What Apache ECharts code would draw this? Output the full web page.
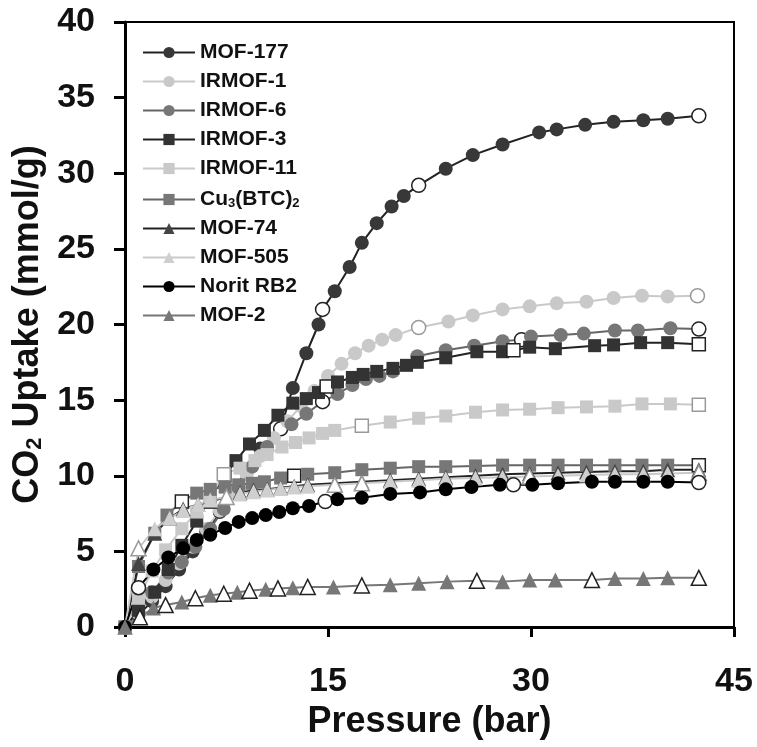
<!DOCTYPE html>
<html><head><meta charset="utf-8">
<script src="https://cdn.jsdelivr.net/npm/echarts@6/dist/echarts.min.js"></script>
<style>html,body{margin:0;padding:0;background:#fff}#c{width:757px;height:747px}</style>
</head><body><div id="c"></div>
<script>
// ---------- data ----------
const seriesNames = ['MOF-177','IRMOF-1','IRMOF-6','IRMOF-3','IRMOF-11','Cu3(BTC)2','MOF-74','MOF-505','Norit RB2','MOF-2'];
const xTicks = [0, 15, 30, 45];
const yTicks = [0, 5, 10, 15, 20, 25, 30, 35, 40];

const P_MOF177 = [0,1,2,3,4,5,6,7,8,9,10,11.5,12.4,13.4,14.3,14.6,15.5,16.6,17.5,18.6,19.7,20.6,21.7,23.7,25.7,27.9,30.6,31.9,34.0,36.1,38.3,40.1,42.4];
const U_MOF177 = [0,0.8,1.7,2.7,3.8,5.0,6.3,7.6,9.0,10.4,11.8,13.1,15.8,18.1,20.0,21.0,22.2,23.8,25.4,26.7,27.8,28.5,29.2,30.3,31.2,31.9,32.7,32.9,33.2,33.4,33.5,33.6,33.8];
const H_MOF177 = [11.5,14.6,21.7,42.4];

const P_IRMOF1 = [0,1,2,3,4,5,6,7,8,9,10,11,12,13,14,15,16,17,18,19,20,21.7,23.9,25.7,27.9,29.9,31.9,34.1,36.1,38.2,40.1,42.3];
const U_IRMOF1 = [0,0.9,2.0,3.1,4.2,5.3,6.5,7.7,8.9,10.1,11.3,12.5,13.6,14.6,15.6,16.6,17.4,18.1,18.6,19.0,19.3,19.8,20.2,20.6,21.0,21.2,21.4,21.5,21.75,21.9,21.85,21.9];
const H_IRMOF1 = [21.7,42.3];

const P_IRMOF6 = [0,1,2,3.2,4.2,5.2,6.3,7.3,8.4,9.4,10.5,12.3,13.4,14.6,15.7,16.8,17.8,18.8,19.8,21.6,23.7,25.8,27.9,29.3,30.0,32.2,33.9,36.2,37.9,40.3,42.4];
const U_IRMOF6 = [0,1.0,2.3,3.6,4.3,5.3,6.5,7.8,9.2,10.6,11.9,13.4,14.1,14.9,15.4,16.0,16.4,16.6,16.9,17.9,18.3,18.6,18.9,19.0,19.2,19.3,19.4,19.6,19.6,19.75,19.7];
const H_IRMOF6 = [14.6,29.3,42.4];

const P_IRMOF3 = [0,1,2.2,3.2,4.2,5.3,6.3,7.4,8.2,9.2,10.3,11.3,12.4,13.4,14.3,14.9,15.7,16.8,17.6,18.6,19.8,20.8,21.6,23.7,26.0,27.9,28.7,29.9,31.8,34.7,36.1,38.1,40.1,42.4];
const U_IRMOF3 = [0,1.1,2.3,3.8,5.4,7.0,8.6,10.0,11.0,12.1,13.0,14.0,14.8,15.1,15.5,15.9,16.2,16.5,16.7,16.9,17.1,17.3,17.5,17.8,18.2,18.2,18.3,18.5,18.4,18.6,18.65,18.8,18.8,18.7];
const H_IRMOF3 = [14.9,28.7,42.4];

const P_IRMOF11 = [0,1,2,3,4.2,5.3,6.3,7.3,8.5,9.6,10.5,11.6,12.6,13.6,14.6,15.5,17.5,19.6,21.7,23.7,25.9,27.9,29.9,32.0,34.1,36.2,38.2,40.3,42.4];
const U_IRMOF11 = [0,1.9,3.7,5.1,6.5,7.6,8.6,10.1,10.5,11.0,11.4,11.9,12.2,12.5,12.8,13.0,13.3,13.55,13.8,13.95,14.2,14.35,14.4,14.5,14.55,14.6,14.75,14.75,14.7];
const H_IRMOF11 = [7.3,17.5,42.4];

const P_CUBTC = [0,1,2.2,3.1,4.2,5.3,6.3,7.4,8.4,9.4,10.3,11.5,12.5,13.5,15.5,17.5,19.6,21.7,23.7,25.9,27.9,29.9,32.0,34.1,36.2,38.2,40.1,42.4];
const U_CUBTC = [0,4.0,6.2,7.4,8.3,8.85,9.1,9.25,9.4,9.5,9.6,9.85,10.0,10.1,10.2,10.4,10.5,10.6,10.6,10.65,10.7,10.7,10.7,10.7,10.7,10.7,10.7,10.7];
const H_CUBTC = [4.2,12.5,42.4];

const P_MOF74 = [0,1,2.2,3.3,4.3,5.4,6.3,7.5,8.5,9.5,10.5,11.5,12.5,13.5,15.5,17.5,19.6,21.7,23.7,25.9,27.9,29.9,32.0,34.1,36.2,38.3,40.1,42.4];
const U_MOF74 = [0,4.2,6.2,7.2,7.8,8.1,8.3,8.6,8.9,9.05,9.1,9.2,9.3,9.4,9.5,9.6,9.7,9.8,9.9,10.0,10.1,10.15,10.2,10.25,10.3,10.3,10.4,10.4];
const H_MOF74 = [];

const P_MOF505 = [0,1,2.2,3.3,4.3,5.4,6.3,7.5,8.5,9.5,10.5,11.5,12.5,13.5,15.5,17.5,19.6,21.7,23.7,25.9,27.9,29.9,32.0,34.1,36.2,38.3,40.1,42.4];
const U_MOF505 = [0,5.2,6.5,7.2,7.7,8.1,8.4,8.6,8.8,8.95,9.05,9.15,9.25,9.3,9.4,9.5,9.6,9.7,9.8,9.85,9.9,9.95,10.0,10.05,10.1,10.1,10.15,10.2];
const H_MOF505 = [1,7.5,15.5,17.5,29.9,42.4];

const P_NORIT = [0,1,2.1,3.2,4.3,5.3,6.3,7.4,8.4,9.4,10.4,11.4,12.4,13.6,14.8,15.7,17.5,19.6,21.8,23.7,25.6,27.7,28.7,30.1,32.0,34.5,36.2,38.3,40.1,42.4];
const U_NORIT = [0,2.6,3.8,4.6,5.2,5.75,6.1,6.55,6.95,7.2,7.4,7.6,7.85,8.0,8.3,8.45,8.55,8.8,8.9,9.1,9.25,9.4,9.4,9.4,9.5,9.6,9.6,9.6,9.6,9.55];
const H_NORIT = [1,14.8,28.7,42.4];

const P_MOF2 = [0,1.1,2.1,3.0,4.2,5.2,6.3,7.3,8.3,9.2,10.4,11.3,12.4,13.5,15.4,17.5,19.6,21.7,23.8,26.0,27.9,29.9,31.8,34.5,36.2,38.3,40.1,42.4];
const U_MOF2 = [0,0.65,1.25,1.45,1.65,1.9,2.1,2.2,2.3,2.4,2.5,2.55,2.6,2.65,2.65,2.75,2.8,2.9,3.0,3.05,3.0,3.1,3.1,3.1,3.2,3.2,3.25,3.25];
const H_MOF2 = [1.1,3.0,5.2,7.3,9.2,11.3,13.5,17.5,26.0,34.5,42.4];

// ---------- styles ----------
const F = '"Liberation Sans", Arial, sans-serif';
const defs = [
  {name:seriesNames[0], P:P_MOF177, U:U_MOF177, H:H_MOF177, symbol:'circle', color:'#383838', line:'#222'},
  {name:seriesNames[1], P:P_IRMOF1, U:U_IRMOF1, H:H_IRMOF1, symbol:'circle', color:'#c9c9c9', line:'#c9c9c9'},
  {name:seriesNames[2], P:P_IRMOF6, U:U_IRMOF6, H:H_IRMOF6, symbol:'circle', color:'#777', line:'#666'},
  {name:seriesNames[3], P:P_IRMOF3, U:U_IRMOF3, H:H_IRMOF3, symbol:'rect', color:'#333', line:'#222'},
  {name:seriesNames[4], P:P_IRMOF11, U:U_IRMOF11, H:H_IRMOF11, symbol:'rect', color:'#c9c9c9', line:'#c9c9c9'},
  {name:seriesNames[5], P:P_CUBTC, U:U_CUBTC, H:H_CUBTC, symbol:'rect', color:'#777', line:'#666'},
  {name:seriesNames[6], P:P_MOF74, U:U_MOF74, H:H_MOF74, symbol:'triangle', color:'#444', line:'#222'},
  {name:seriesNames[7], P:P_MOF505, U:U_MOF505, H:H_MOF505, symbol:'triangle', color:'#cfcfcf', line:'#c9c9c9'},
  {name:seriesNames[8], P:P_NORIT, U:U_NORIT, H:H_NORIT, symbol:'circle', color:'#000', line:'#000'},
  {name:seriesNames[9], P:P_MOF2, U:U_MOF2, H:H_MOF2, symbol:'triangle', color:'#777', line:'#777'}
];
const symSize = {circle:14, rect:13, triangle:15};

const series = defs.map(d => ({
  name: d.name,
  type: 'line',
  symbol: d.symbol,
  symbolSize: symSize[d.symbol],
  showSymbol: true,
  animation: false,
  lineStyle: {color: d.line, width: 2},
  itemStyle: {color: d.color, borderColor: d.color, borderWidth: 0},
  data: d.P.map((p, i) => {
    const item = {value: [p, d.U[i]]};
    if (d.H.indexOf(p) >= 0) {
      item.itemStyle = {color: '#fff', borderColor: d.line === '#c9c9c9' ? '#999' : '#222', borderWidth: 1.5};
    }
    return item;
  })
}));

const chart = echarts.init(document.getElementById('c'), null, {renderer: 'canvas'});
chart.setOption({
  backgroundColor: '#fff',
  animation: false,
  grid: {left: 125, right: 23, top: 22, bottom: 120, show: true, borderColor: '#000', borderWidth: 2, containLabel: false},
  legend: {
    orient: 'vertical', left: 137, top: 37,
    itemWidth: 52, itemHeight: 14, itemGap: 8,
    data: seriesNames,
    formatter: n => n === 'Cu3(BTC)2' ? 'Cu{sub|3}(BTC){sub|2}' : n,
    textStyle: {fontFamily: F, fontWeight: 'bold', fontSize: 21, color: '#111', lineHeight: 21,
      rich: {sub: {fontFamily: F, fontWeight: 'bold', fontSize: 13, color: '#111', verticalAlign: 'bottom', lineHeight: 21, padding:[10,0,0,0]}}}
  },
  xAxis: {
    type: 'value', min: 0, max: 45, interval: 15,
    name: 'Pressure (bar)', nameLocation: 'middle', nameGap: 70,
    nameTextStyle: {fontFamily: F, fontWeight: 'bold', fontSize: 36, color: '#111'},
    axisLine: {show: true, lineStyle: {color: '#000', width: 3}},
    axisTick: {show: true, inside: false, length: 10, lineStyle: {color: '#000', width: 3}},
    axisLabel: {margin: 38, fontFamily: F, fontWeight: 'bold', fontSize: 34, color: '#111',
      formatter: v => xTicks.indexOf(v) >= 0 ? String(v) : ''},
    splitLine: {show: false}
  },
  yAxis: {
    type: 'value', min: 0, max: 40, interval: 5,
    name: 'CO{sub|2} Uptake (mmol/g)', nameLocation: 'middle', nameGap: 76, nameRotate: 90,
    nameTextStyle: {fontFamily: F, fontWeight: 'bold', fontSize: 36, color: '#111',
      rich: {sub: {fontFamily: F, fontWeight: 'bold', fontSize: 22, color: '#111', padding:[14,0,0,0]}}},
    axisLine: {show: true, lineStyle: {color: '#000', width: 3}},
    axisTick: {show: true, inside: false, length: 11, lineStyle: {color: '#000', width: 3}},
    axisLabel: {margin: 30, fontFamily: F, fontWeight: 'bold', fontSize: 34, color: '#111',
      formatter: v => yTicks.indexOf(v) >= 0 ? String(v) : ''},
    splitLine: {show: false}
  },
  series: series
});
</script>
</body></html>
